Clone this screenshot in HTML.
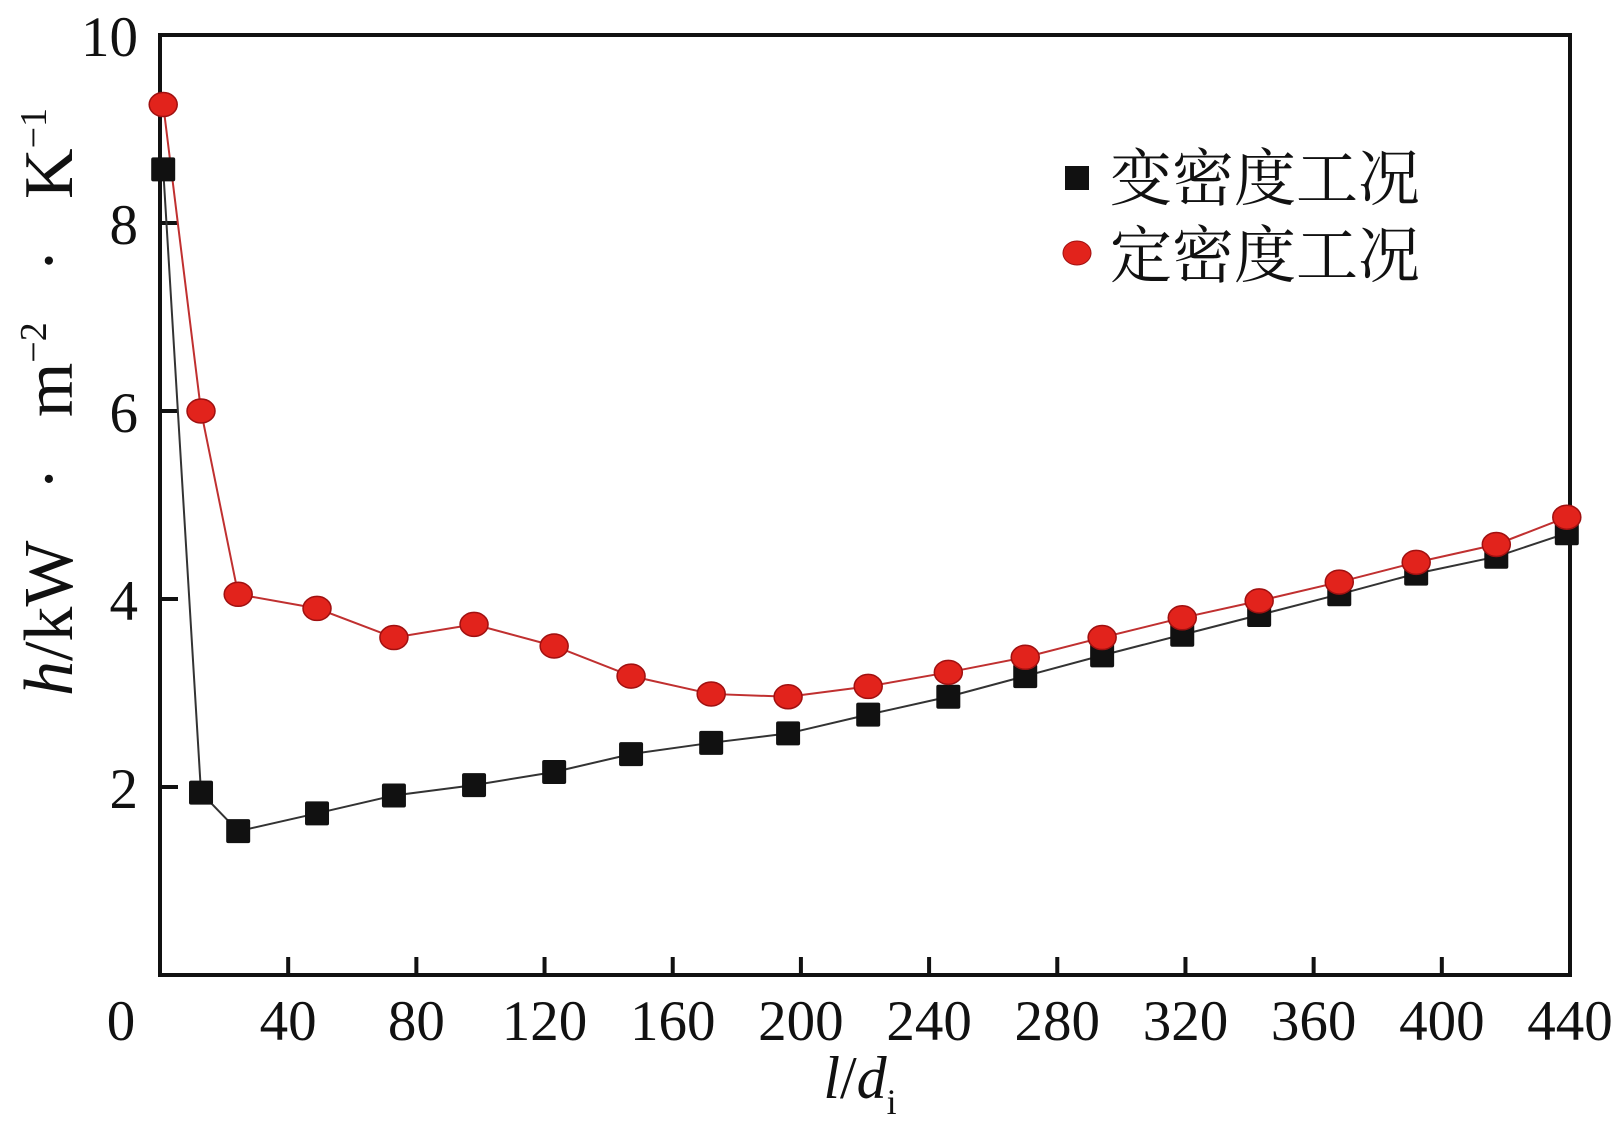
<!DOCTYPE html>
<html><head><meta charset="utf-8"><style>
body{margin:0;background:#fff}
svg{display:block}
text{font-family:"Liberation Serif","Noto Serif CJK SC",serif;fill:#111}
</style></head><body>
<svg id="chart" width="1614" height="1144" viewBox="0 0 1614 1144" xmlns="http://www.w3.org/2000/svg">
<g id="plot"></g>
</svg>
<script>
const xValues=[1,12.8,24.4,49,73,98,123,147,172,196,221,246,270,294,319,343,368,392,417,439];
const varDensity=[8.57,1.94,1.53,1.72,1.91,2.02,2.16,2.35,2.47,2.57,2.77,2.96,3.18,3.40,3.62,3.83,4.05,4.27,4.45,4.70];
const constDensity=[9.26,6.0,4.05,3.9,3.59,3.73,3.5,3.18,2.99,2.96,3.07,3.22,3.38,3.59,3.8,3.98,4.18,4.39,4.58,4.87];
const xTicks=[40,80,120,160,200,240,280,320,360,400,440];
const yTicks=[2,4,6,8,10];
const L=160,R=1570,T=35,B=975;
const sx=v=>L+(v-0)/440*(R-L);
const sy=v=>B-(v-0)/10*(B-T);
const NS="http://www.w3.org/2000/svg";
const g=document.getElementById('plot');
function mk(tag,attrs,parent){const e=document.createElementNS(NS,tag);for(const k in attrs)e.setAttribute(k,attrs[k]);(parent||g).appendChild(e);return e;}
let fr=mk('rect',{x:L,y:T,width:R-L,height:B-T,fill:'none',stroke:'#111','stroke-width':4});


xTicks.forEach(v=>{
  let t=mk('line',{x1:sx(v),x2:sx(v),y1:B,y2:B-18,stroke:'#111','stroke-width':4});
  
  
  let l=mk('text',{x:sx(v),y:1040,'text-anchor':'middle','font-size':57});
  l.textContent=v;
  
  
});
let z=mk('text',{x:121,y:1040,'text-anchor':'middle','font-size':57});z.textContent='0';


yTicks.forEach(v=>{
  let t=mk('line',{x1:L,x2:L+18,y1:sy(v),y2:sy(v),stroke:'#111','stroke-width':4});
  
  
  let l=mk('text',{x:138,y:sy(v)+21,'text-anchor':'end','font-size':57});
  l.textContent=v;
  
  
});
function series(vals,color,name){
  let pts=xValues.map((x,i)=>sx(x)+','+sy(vals[i])).join(' ');
  let p=mk('polyline',{points:pts,fill:'none',stroke:color,'stroke-width':2});
  
  
}
series(varDensity,'#333','var-density');
series(constDensity,'#c03030','const-density');
xValues.forEach((x,i)=>{
  let s=mk('rect',{x:sx(x)-12,y:sy(varDensity[i])-12,width:24,height:24,fill:'#111',rx:2});
  
  
});
xValues.forEach((x,i)=>{
  let c=mk('ellipse',{cx:sx(x),cy:sy(constDensity[i]),rx:14,ry:12,fill:'#e2231c',stroke:'#a01010','stroke-width':1.5});
  
  
});
</script>
<svg style="position:absolute;left:0;top:0" width="1614" height="1144">
<g>
<rect x="1065" y="166" width="24" height="24" fill="#111"/>
<text x="1110" y="200" font-size="62" font-family="Liberation Serif, Noto Serif CJK SC, serif">变密度工况</text>
<ellipse cx="1077" cy="253" rx="14" ry="12" fill="#e2231c" stroke="#a01010"/>
<text x="1110" y="277" font-size="62" font-family="Liberation Serif, Noto Serif CJK SC, serif">定密度工况</text>
</g>
<text x="860" y="1098" text-anchor="middle" font-size="60" font-family="Liberation Serif, serif"><tspan font-style="italic">l</tspan>/<tspan font-style="italic">d</tspan><tspan font-size="36" dy="16">i</tspan></text>
<text transform="translate(72,402) rotate(-90)" text-anchor="middle" font-size="70" font-family="Liberation Serif, serif"><tspan font-style="italic">h</tspan>/kW<tspan dx="50">·</tspan><tspan dx="50">m</tspan><tspan font-size="38" dy="-26">−2</tspan><tspan dx="50" dy="26">·</tspan><tspan dx="50">K</tspan><tspan font-size="38" dy="-26">−1</tspan></text>
</svg>
</body></html>
